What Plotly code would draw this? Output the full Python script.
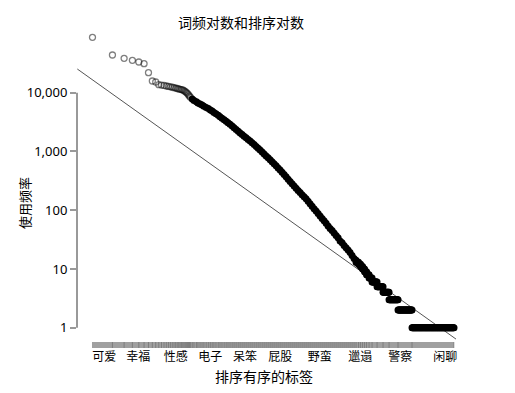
import numpy as np
import plotly.graph_objects as go

# ---- data ----
# most used tags: rank -> usage count
head_rank = list(range(1, 31))
head_freq = [87700, 43800, 38500, 35500, 33300, 31200, 21900, 15800, 15200,
             13700, 13460, 13270, 13000, 12800, 12600, 12400, 12170, 11980, 11790, 11610,
             11430, 11290, 11160, 10860, 10480, 10150, 9770, 9250, 8790, 8360]

# middle of the curve (sampled ranks)
mid_rank = [32, 34, 37, 39, 42, 45, 48, 52, 56, 60, 64, 68, 73, 79, 84, 90, 97, 104, 111, 119,
            128, 137, 147, 158, 169, 181, 194, 208, 223, 239, 256, 275, 295, 316, 338, 363, 389,
            417, 447, 479, 513, 550, 590, 632, 678, 726, 779, 835, 895, 959, 1028, 1102, 1181,
            1266, 1357, 1455, 1560, 1672, 1792, 1921, 2059, 2207, 2366, 2536, 2719, 2914, 3124,
            3349, 3590, 3848, 4125, 4422, 4740, 5081, 5446, 5838, 6258, 6708, 7191, 7708, 8262,
            8857, 9493]
mid_freq = [7780, 7340, 7030, 6705, 6423, 6150, 5870, 5620, 5363, 5096, 4862, 4620, 4383, 4133,
            3896, 3674, 3464, 3266, 3080, 2904, 2722, 2537, 2373, 2211, 2061, 1936, 1818, 1708,
            1604, 1506, 1404, 1308, 1219, 1136, 1059, 980, 908, 840, 780, 721, 669, 616, 568,
            523, 481, 444, 405, 370, 337, 308, 281, 257, 237, 217, 200, 184, 169, 156, 142, 129,
            117, 106, 97, 88, 80, 72, 66, 60, 54, 49, 45, 41, 37, 34, 30, 28, 25, 23, 21, 19,
            17, 15, 14]

# long tail: runs of equal counts (count, last rank of the run)
tail_freq = [13, 12, 11, 10, 9, 8, 7, 6, 5, 4, 3, 2, 1]
tail_last_rank = [10350, 11100, 11900, 12750, 13670, 14910, 16550, 19690, 24240, 29870,
                  40820, 66380, 285500]

# reference (Zipf) line end points
line_rank = [0.59, 305900]
line_freq = [25300, 0.64]

# labelled tags on the rank axis
tick_ranks = [1.5, 4.9, 18, 60, 200, 680, 2700, 11000, 44000, 210000]
tick_labels = ["可爱", "幸福", "性感", "电子", "呆笨", "屁股", "野蛮", "邋遢", "警察", "闲聊"]

y_tickvals = [1, 10, 100, 1000, 10000]
y_ticktext = ["1", "10", "100", "1,000", "10,000"]

# ---- build tail points from the runs ----
tail_r, tail_f = [], []
start = mid_rank[-1] + 1
for f, last in zip(tail_freq, tail_last_rank):
    n = max(2, int(np.log10(last / start) * 120) + 2)
    rr = np.unique(np.round(np.geomspace(start, last, n)))
    tail_r.extend(rr.tolist())
    tail_f.extend([f] * len(rr))
    start = last + 1

FONT = "Noto Sans, Noto Sans CJK SC, sans-serif"
fig = go.Figure()

# Zipf line
fig.add_trace(go.Scatter(x=line_rank, y=line_freq, mode="lines",
                         line=dict(color="#555555", width=1), hoverinfo="skip"))
# sparse head points (grey open circles)
fig.add_trace(go.Scatter(x=head_rank, y=head_freq, mode="markers",
                         marker=dict(symbol="circle-open", size=6, color="black",
                                     opacity=0.5, line=dict(width=1.3, color="black"))))
# dense part of the curve (overlapping circles form a solid band)
fig.add_trace(go.Scatter(x=mid_rank + tail_r, y=mid_freq + tail_f, mode="markers",
                         marker=dict(symbol="circle", size=7, color="black",
                                     opacity=1, line=dict(width=0))))
# rug of tags
rug_rank = head_rank + mid_rank + tail_last_rank
fig.add_trace(go.Scatter(x=rug_rank, y=[0.5] * len(rug_rank), mode="markers",
                         marker=dict(symbol="line-ns", size=7, opacity=0.3,
                                     line=dict(width=1, color="#333333")),
                         yaxis="y2", hoverinfo="skip"))

W, H = 515, 393
L, R, T, B = 77, 55, 30, 44
pw, ph = W - L - R, H - T - B
bottom_px = H - B

def py(ypx):
    return (bottom_px - ypx) / ph

def px(xpx):
    return (xpx - L) / pw

fig.update_layout(
    width=W, height=H,
    margin=dict(l=L, r=R, t=T, b=B),
    paper_bgcolor="white", plot_bgcolor="white",
    showlegend=False,
    font=dict(family=FONT, color="black", size=12),
    xaxis=dict(type="log", range=[-0.2338, 5.546], anchor="y2",
               tickvals=tick_ranks, ticktext=tick_labels, ticks="",
               showgrid=False, zeroline=False, showline=False,
               tickfont=dict(size=12)),
    yaxis=dict(type="log", range=[-0.2094, 5.067], domain=[py(340), 1],
               tickvals=y_tickvals, ticktext=y_ticktext,
               ticks="outside", ticklen=6, tickwidth=1.5, tickcolor="#999999",
               showgrid=False, zeroline=False, showline=False,
               tickfont=dict(size=13)),
    yaxis2=dict(range=[0, 1], domain=[py(348), py(342)], visible=False),
    shapes=[
        dict(type="line", xref="paper", yref="y", x0=0, x1=0,
             y0=y_tickvals[0], y1=y_tickvals[-1],
             line=dict(color="#999999", width=2)),
        dict(type="rect", xref="x", yref="y2", x0=head_rank[0], x1=tail_last_rank[-1],
             y0=0, y1=1, fillcolor="#a0a0a0", line=dict(width=0), layer="below"),
    ],
    annotations=[
        dict(text="词频对数和排序对数", xref="paper", yref="paper", x=px(241), y=py(22.7),
             showarrow=False, font=dict(size=14), xanchor="center", yanchor="middle"),
        dict(text="使用频率", xref="paper", yref="paper", x=px(24.5), y=py(203.5),
             showarrow=False, font=dict(size=13), textangle=-90,
             xanchor="center", yanchor="middle"),
        dict(text="排序有序的标签", xref="paper", yref="paper", x=px(264), y=py(376.5),
             showarrow=False, font=dict(size=14), xanchor="center", yanchor="middle"),
    ],
)

fig.write_html("out.html", config={"displayModeBar": False},
               post_script="document.body.style.margin='0px';")
